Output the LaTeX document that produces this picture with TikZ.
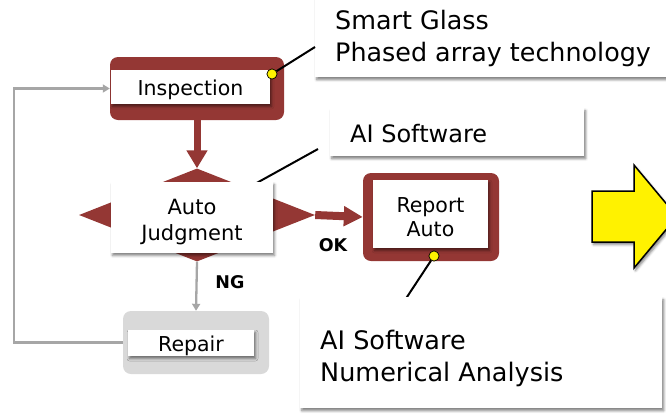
\documentclass[tikz,border=0pt]{standalone}
\usepackage{fontspec}
\setmainfont{DejaVu Sans}
\usetikzlibrary{arrows.meta,shapes.geometric,shadows.blur}

\definecolor{brick}{RGB}{148,55,52}
\definecolor{lineg}{RGB}{166,166,166}
\definecolor{padg}{RGB}{217,217,217}

\tikzset{
  softshadow/.style={blur shadow={shadow xshift=1.5pt, shadow yshift=-2.5pt,
      shadow blur radius=2.5pt, shadow opacity=50}},
  redpad/.style={fill=brick, rounded corners=8pt, inner sep=0pt},
  greypad/.style={fill=padg, rounded corners=8pt, inner sep=0pt},
  label/.style={fill=white, inner sep=0pt, softshadow},
  note/.style={fill=white, inner sep=0pt, softshadow},
  caption/.style={inner sep=0pt, align=center, font=\fontsize{20.5}{24.5}\selectfont},
  pin/.style={circle, fill=yellow, draw=black, line width=0.6pt,
      minimum size=10pt, inner sep=0pt},
  bigarrow/.style={brick, line width=7pt,
      -{Triangle[width=20pt,length=18pt]}},
  thinarrow/.style={lineg, line width=2.3pt,
      -{Triangle[width=8pt,length=7pt]}},
  leader/.style={black, line width=2pt},
  tag/.style={font=\fontsize{17.5}{20}\selectfont\bfseries, inner sep=0pt},
}

\begin{document}
\begin{tikzpicture}[x=1pt,y=-1pt]
\useasboundingbox (0,0) rectangle (666,413);
\clip (0,0) rectangle (666,413);

% ---- call-out boxes ----
\node[note, anchor=north west, minimum width=400pt, minimum height=97pt]
  (sg) at (315,-20) {};
\node[anchor=west, inner sep=0pt, align=left,
  font=\fontsize{25.4}{32}\selectfont] (sgtext) at (335,38)
  {Smart Glass\\Phased array technology};

\node[note, anchor=north west, minimum width=254pt, minimum height=48pt]
  (ais) at (330,108) {};
\node[anchor=base west, inner sep=0pt, font=\fontsize{24}{28}\selectfont]
  (aistext) at (350,142) {AI Software};

% leader from the software note down to the judgment step
\coordinate (aisend) at (318,149);
\coordinate (diahook) at (235,195);
\draw[leader] (aisend) -- (diahook);

% ---- inspection step ----
\node[redpad, minimum width=174pt, minimum height=63pt] (insp) at (197,88.5) {};
\node[label, minimum width=159pt, minimum height=34pt] (inspT) at (190.5,87) {};
\node[caption] (inspC) at ([yshift=-2.5pt]inspT.center) {Inspection};
\node[pin] (pin1) at (272,74) {};
\draw[leader] (pin1) -- (sg.west |- 0,47);
\node[pin] at (272,74) {};

% ---- judgment diamond ----
\node[diamond, fill=brick, minimum width=236pt, minimum height=93pt,
  inner sep=0pt] (dia) at (197,215) {};
\draw[bigarrow] (insp.south) -- (dia.north);
\node[label, minimum width=162pt, minimum height=71pt] (judg) at (192,217.5) {};
\node[caption, font=\fontsize{21}{26}\selectfont] (judgC)
  at ([yshift=-4.5pt]judg.center) {Auto\\Judgment};

% ---- report step ----
\node[redpad, minimum width=136pt, minimum height=88pt] (rep) at (431,217) {};
\node[label, minimum width=115pt, minimum height=68pt] (repT) at (430.5,214) {};
\node[caption, font=\fontsize{20.5}{24.5}\selectfont] (repC)
  at ([yshift=-3pt]repT.center) {Report\\Auto};
\draw[brick, line width=8pt, -{Triangle[width=19pt,length=19pt]}]
  (dia.east) -- (rep.west);
\node[tag] (ok) at (333,245) {OK};

\coordinate (numhook) at (405,300);
\node[pin] (pin2) at (434,256) {};
\draw[leader] (pin2) -- (numhook);
\node[pin] at (434,256) {};

% ---- repair step and loop back ----
\node[greypad, minimum width=146pt, minimum height=63pt] (repr) at (196,342.5) {};
\node[label, minimum width=126pt, minimum height=26pt] (reprT) at (191,343) {};
\node[caption] (reprC) at ([yshift=-2.5pt]reprT.center) {Repair};
\draw[thinarrow] (dia.south) -- (repr.north);
\node[tag] (ng) at (230,282) {NG};

\coordinate (loopx) at (14,0);
\draw[thinarrow] (repr.west) -- (repr.west -| loopx) |- (insp.west);

% ---- analysis note ----
\node[note, anchor=north west, minimum width=362pt, minimum height=111pt]
  (num) at (300,297) {};
\node[anchor=west, inner sep=0pt, align=left,
  font=\fontsize{25.5}{32}\selectfont] (numtext) at (320,358)
  {AI Software\\Numerical Analysis};

% ---- outgoing arrow ----
\path[fill=yellow, draw=black, line width=1.5pt, line join=miter, softshadow]
  (592,191) -- (634,191) -- (634,165) -- (677,216.5) -- (634,268)
  -- (634,242) -- (592,242) -- cycle;
\end{tikzpicture}
\end{document}
